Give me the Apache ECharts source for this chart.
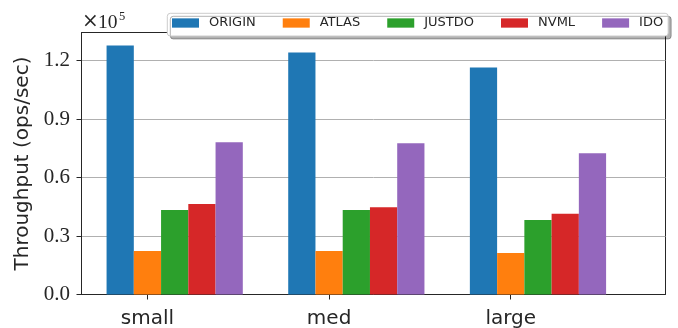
<!DOCTYPE html>
<html><head><meta charset="utf-8">
<script src="https://cdn.jsdelivr.net/npm/echarts@6/dist/echarts.min.js"></script>
<style>html,body{margin:0;padding:0;background:#fff}#c{width:678px;height:328px}</style>
</head><body><div id="c"></div>
<script>
// ---- data ----
const categories = ['small', 'med', 'large'];
const seriesNames = ['ORIGIN', 'ATLAS', 'JUSTDO', 'NVML', 'IDO'];
const origin = [127700, 124100, 116400];
const atlas = [22300, 22300, 21300];
const justdo = [43300, 43300, 38200];
const nvml = [46400, 44800, 41400];
const ido = [78100, 77600, 72400];
const yTicks = [0, 30000, 60000, 90000, 120000];
const xTicks = [0, 1, 2];

// ---- layout / style ----
const colors = ['#1f77b4', '#ff7f0e', '#2ca02c', '#d62728', '#9467bd'];
const W = 678, H = 328;
const plotL = 81.5, plotR = 665.5, plotT = 32.5, plotB = 294.5;
const xMin = -0.363, xMax = 2.852;   // x limits in category units
const yMax = 134400;
const barW = 0.15;                    // bar width in category units
const unit = (plotR - plotL) / (xMax - xMin);
const groupOffset = barW;             // group centre relative to tick (2nd bar centred on tick)
const bandL = plotL + (-0.5 + groupOffset - xMin) * unit;
const bandR = plotL + (categories.length - 0.5 + groupOffset - xMin) * unit;
const ink = '#262626';

const values = [origin, atlas, justdo, nvml, ido];

const chart = echarts.init(document.getElementById('c'), null, {renderer: 'canvas'});
chart.setOption({
  animation: false,
  backgroundColor: '#ffffff',
  textStyle: {fontFamily: 'DejaVu Sans'},
  grid: [
    {left: plotL, right: W - plotR, top: plotT, bottom: H - plotB, show: true,
     borderColor: ink, borderWidth: 1, backgroundColor: 'transparent', outerBoundsMode: 'none', containLabel: false},
    {left: bandL, right: W - bandR, top: plotT, bottom: H - plotB, outerBoundsMode: 'none', containLabel: false}
  ],
  xAxis: [
    {type: 'value', gridIndex: 0, min: xMin, max: xMax,
     splitLine: {show: false},
     axisLine: {show: true, onZero: false, lineStyle: {color: ink, width: 1}},
     axisTick: {show: true, length: 5, customValues: xTicks, lineStyle: {color: ink, width: 1}},
     axisLabel: {show: true, customValues: xTicks, formatter: v => categories[Math.round(v)],
                 fontFamily: 'DejaVu Sans', fontSize: 20, color: ink, margin: 14}},
    {type: 'category', gridIndex: 1, data: categories, show: false}
  ],
  yAxis: [
    {type: 'value', gridIndex: 0, min: 0, max: yMax, interval: 30000,
     name: 'Throughput (ops/sec)', nameLocation: 'middle', nameGap: 42,
     nameTextStyle: {fontFamily: 'DejaVu Sans', fontSize: 20, color: ink},
     axisLine: {show: true, onZero: false, lineStyle: {color: ink, width: 1}},
     axisTick: {show: true, length: 5, customValues: yTicks, lineStyle: {color: ink, width: 1}},
     axisLabel: {show: true, customValues: yTicks, formatter: v => (v / 1e5).toFixed(1),
                 fontFamily: 'Liberation Serif', fontSize: 21, color: ink, margin: 11.5},
     splitLine: {show: true, lineStyle: {color: '#b0b0b0', width: 1}}},
    {type: 'value', gridIndex: 1, min: 0, max: yMax, show: false, splitLine: {show: false}}
  ],
  legend: {
    left: 167.3, top: 13.3, orient: 'horizontal', data: seriesNames,
    icon: 'rect', itemWidth: 27, itemHeight: 9.3, itemGap: 27,
    padding: [2.2, 5, 5.5, 4.7],
    backgroundColor: '#ffffff', borderColor: '#cccccc', borderWidth: 1, borderRadius: 3,
    shadowColor: 'rgba(0,0,0,0.3)', shadowOffsetX: 3, shadowOffsetY: 3, shadowBlur: 0,
    textStyle: {fontFamily: 'DejaVu Sans', fontSize: 13, color: ink, lineHeight: 15, padding: [0, 0, 0, 5]},
    z: 10
  },
  graphic: [
    {type: 'text', left: 82, top: 12, z: 10, style: {text: '×', font: '20px "DejaVu Serif"', fill: ink}},
    {type: 'text', left: 98, top: 12.5, z: 10, style: {text: '10', font: '19.5px "Liberation Serif"', fill: ink}},
    {type: 'text', left: 119, top: 10.5, z: 10, style: {text: '5', font: '12.5px "Liberation Serif"', fill: ink}}
  ],
  series: seriesNames.map((n, k) => ({
    name: n, type: 'bar', xAxisIndex: 1, yAxisIndex: 1, data: values[k],
    barWidth: barW * unit, barGap: '0%', itemStyle: {color: colors[k]}
  }))
});
</script></body></html>
